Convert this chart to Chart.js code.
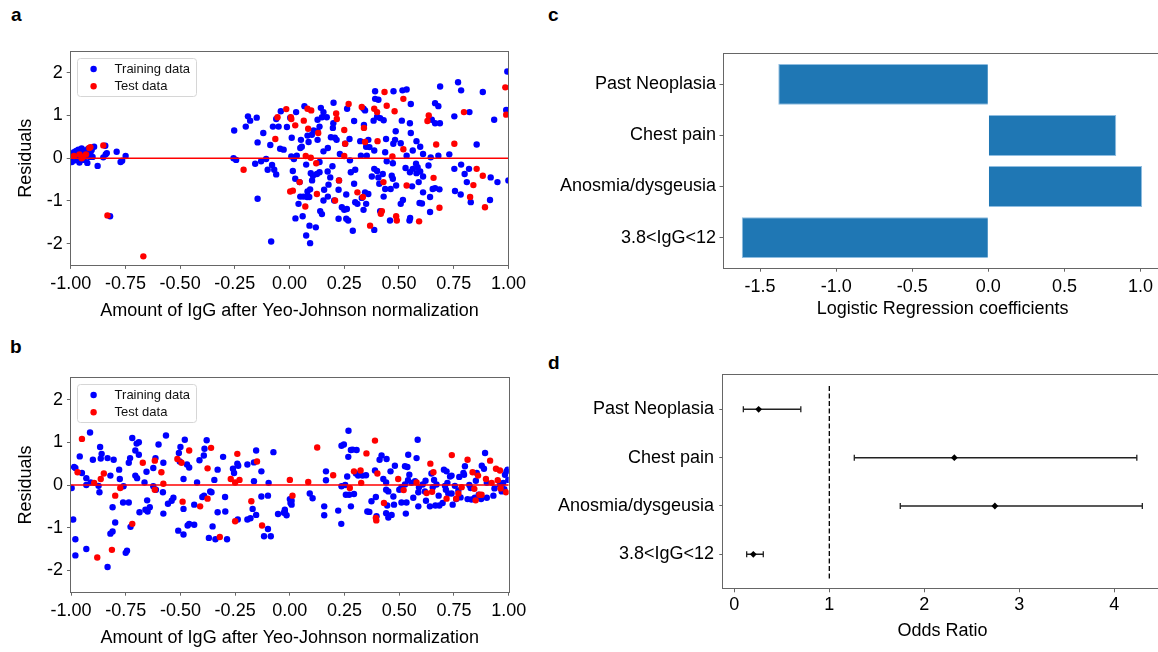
<!DOCTYPE html>
<html><head><meta charset="utf-8">
<script src="https://cdn.jsdelivr.net/npm/chart.js@4.4.1/dist/chart.umd.min.js"></script>
<style>
html,body{margin:0;padding:0;background:#fff;overflow:hidden;width:1158px;height:652px;position:relative;}
canvas{position:absolute;left:0;top:0;}
.lbl{position:absolute;font:bold 19px "Liberation Sans",Arial,sans-serif;line-height:19px;color:#000;}
</style></head><body>
<div class="lbl" style="left:11px;top:5px">a</div>
<div class="lbl" style="left:10px;top:337px">b</div>
<div class="lbl" style="left:548px;top:5px">c</div>
<div class="lbl" style="left:548px;top:353px">d</div>
<canvas id="chA" width="1170" height="652" style="width:1170px;height:652px"></canvas>
<canvas id="chB" width="1170" height="652" style="width:1170px;height:652px"></canvas>
<canvas id="chC" width="1170" height="652" style="width:1170px;height:652px"></canvas>
<canvas id="chD" width="1170" height="652" style="width:1170px;height:652px"></canvas>
<script>
// ---------- Panel a: residuals (training / test) ----------
const aTrain = [[-0.995,-0.09],[-0.99,0.11],[-0.985,0.14],[-0.98,-0.05],[-0.975,0.17],[-0.97,0.02],[-0.965,0.2],[-0.96,-0.1],[-0.955,0.06],[-0.95,0.23],[-0.945,0.1],[-0.94,-0.04],[-0.935,0.18],[-0.93,0.06],[-0.924,-0.11],[-0.92,0.22],[-0.915,0.03],[-0.91,0.12],[-0.904,0.19],[-0.9,0.03],[-0.893,0.27],[-0.877,-0.18],[-0.842,0.29],[-0.84,0.09],[-0.851,0.02],[-0.835,0.12],[-0.79,0.15],[-0.772,-0.09],[-0.765,-0.06],[-0.749,0.05],[-0.82,-1.36],
[-0.253,0.65],[-0.256,0.0],[-0.244,-0.04],[-0.2,0.74],[-0.19,0.98],[-0.18,0.88],[-0.15,0.95],[-0.146,0.37],[-0.157,-0.13],[-0.13,-0.07],[-0.107,-0.02],[-0.12,0.59],[-0.146,-0.95],[-0.1,-0.27],[-0.08,-0.16],[-0.07,-0.27],[-0.061,-0.38],[-0.088,0.31],[-0.084,-1.95],[-0.076,0.74],[-0.05,0.74],[-0.061,0.92],[-0.04,1.1],[-0.043,0.22],[-0.027,0.2],[0.003,0.95],[0.03,1.08],[-0.012,0.73],[0.01,0.48],[0.008,0.04],[0.02,-0.02],[0.033,0.06],[0.015,-0.3],[0.026,-0.48],[0.046,-0.56],[0.027,-1.41],[0.049,-0.9],[0.063,-0.9],[0.08,-0.91],[0.09,-0.91],[0.041,-1.07],[0.06,-1.36],[0.076,-1.81],[0.094,-1.99],[0.091,-1.58],[0.12,-1.62],[0.049,0.24],[0.056,0.27],[0.052,0.43],[0.068,1.22],[0.087,0.38],[0.082,0.53],[0.076,-0.15],[0.097,-0.35],[0.107,-0.41],[0.125,-0.37],[0.137,-0.33],[0.102,0.55],[0.082,-0.78],[0.094,-0.73],[0.103,-0.52],[0.11,0.65],[0.128,0.9],[0.128,0.63],[0.137,0.74],[0.128,0.43],[0.148,0.96],[0.155,1.08],[0.17,0.96],[0.143,1.18],[0.137,-0.09],[0.155,0.16],[0.175,0.24],[0.14,-1.24],[0.148,-1.31],[0.155,-0.99],[0.175,-0.9],[0.158,-0.74],[0.178,-0.62],[0.186,-0.45],[0.174,-0.31],[0.189,0.49],[0.198,0.71],[0.201,1.3],[0.2,0.82],[0.207,0.48],[0.215,0.43],[0.23,0.1],[0.196,-0.19],[0.226,-0.52],[0.224,-0.74],[0.204,-0.99],[0.239,-1.15],[0.25,-1.21],[0.262,-1.19],[0.224,-1.42],[0.259,-1.42],[0.268,-1.46],[0.289,-1.7],[0.259,-0.85],[0.254,0.34],[0.263,1.16],[0.274,0.45],[0.276,-0.05],[0.28,-0.33],[0.3,-0.27],[0.295,0.87],[0.295,-0.6],[0.3,-1.03],[0.31,-1.07],[0.323,0.4],[0.35,0.27],[0.338,1.16],[0.345,1.12],[0.34,0.78],[0.326,0.06],[0.353,0.06],[0.33,-0.93],[0.345,-0.8],[0.36,-0.84],[0.338,-1.21],[0.35,-1.07],[0.387,-1.68],[0.391,1.57],[0.391,1.39],[0.406,1.37],[0.384,0.88],[0.4,0.97],[0.414,0.94],[0.43,0.89],[0.387,0.18],[0.365,0.26],[0.36,0.43],[0.387,-0.25],[0.4,-0.3],[0.376,-0.43],[0.406,-0.45],[0.426,-0.37],[0.41,-0.6],[0.437,-0.72],[0.43,-0.9],[0.414,-1.24],[0.441,0.45],[0.437,0.14],[0.444,-0.07],[0.467,-0.41],[0.472,-0.48],[0.462,-0.72],[0.459,-1.46],[0.475,1.57],[0.485,0.63],[0.482,0.43],[0.474,0.34],[0.472,-0.12],[0.487,-0.64],[0.513,0.88],[0.508,0.35],[0.516,1.59],[0.535,1.61],[0.554,1.27],[0.535,0.06],[0.53,-0.23],[0.55,-0.33],[0.563,-0.25],[0.56,-0.66],[0.518,-0.98],[0.508,-1.07],[0.548,-1.46],[0.551,-1.4],[0.55,0.82],[0.554,0.59],[0.563,0.18],[0.58,0.4],[0.578,-0.13],[0.585,-0.21],[0.597,-0.31],[0.58,-0.35],[0.59,-0.56],[0.594,-1.05],[0.605,-1.06],[0.597,0.27],[0.61,0.1],[0.61,-0.43],[0.61,-0.8],[0.635,-0.17],[0.65,0.9],[0.665,1.29],[0.68,1.22],[0.665,0.82],[0.687,0.82],[0.68,0.06],[0.645,0.02],[0.654,-0.72],[0.665,-0.7],[0.685,-0.73],[0.642,-0.91],[0.642,-1.26],[0.688,1.68],[0.73,0.09],[0.753,0.98],[0.753,-0.25],[0.784,-0.15],[0.756,-0.77],[0.782,-0.85],[0.77,1.78],[0.784,1.59],[0.822,1.08],[0.8,-0.37],[0.81,-0.56],[0.82,-0.25],[0.828,-1.03],[0.855,0.32],[0.883,1.55],[0.916,-0.98],[0.919,-0.45],[0.95,-0.56],[0.935,0.9],[0.995,2.03],[0.99,1.13],[1.0,-0.52]];
const aTest = [[-0.985,0.05],[-0.96,0.09],[-0.945,0.03],[-0.93,0.09],[-0.915,0.24],[-0.91,0.26],[-0.95,0.0],[-0.851,0.3],[-0.832,-1.34],[-0.668,-2.3],
[-0.21,-0.27],[-0.065,0.45],[-0.055,0.96],[-0.015,1.15],[0.006,0.96],[0.008,0.92],[0.026,0.77],[0.003,-0.78],[0.015,-0.76],[0.046,-0.56],[0.072,-1.13],[0.065,0.88],[0.082,1.16],[0.099,1.12],[0.074,0.05],[0.097,0.01],[0.085,0.69],[0.125,-0.84],[0.131,0.59],[0.122,-0.12],[0.213,1.05],[0.216,0.92],[0.25,0.05],[0.226,-0.52],[0.208,-0.99],[0.25,0.66],[0.254,0.34],[0.27,1.27],[0.31,-0.8],[0.345,0.38],[0.33,1.2],[0.34,0.71],[0.335,-0.91],[0.368,-1.58],[0.387,1.16],[0.4,1.08],[0.402,0.4],[0.429,-0.56],[0.417,-1.3],[0.422,-1.24],[0.434,1.55],[0.444,1.23],[0.47,0.04],[0.487,-1.36],[0.49,-1.46],[0.48,1.1],[0.52,1.39],[0.52,0.21],[0.535,-0.64],[0.592,-1.48],[0.636,1.0],[0.63,0.87],[0.67,0.32],[0.658,-0.46],[0.685,-1.16],[0.753,0.34],[0.797,1.08],[0.84,-0.63],[0.825,-0.91],[0.855,-0.25],[0.883,-0.41],[0.893,-1.15],[0.986,1.66],[0.99,1.02]];

// ---------- Panel b ----------
const bTrain = [[-0.997,-0.07],[-0.99,-0.81],[-0.98,-1.27],[-0.98,-1.65],[-0.986,0.42],[-0.98,0.4],[-0.96,0.67],[-0.95,0.28],[-0.93,0.16],[-0.93,0.0],[-0.913,1.23],[-0.91,0.06],[-0.93,-1.5],[-0.9,0.59],[-0.874,-0.02],[-0.87,-0.17],[-0.867,0.89],[-0.864,0.62],[-0.86,0.73],[-0.833,0.63],[-0.82,0.22],[-0.805,0.59],[-0.833,-1.92],[-0.81,-0.52],[-0.798,-0.88],[-0.82,-1.14],[-0.81,-1.09],[-0.78,0.36],[-0.777,0.14],[-0.76,-0.03],[-0.762,-0.41],[-0.736,-0.41],[-0.75,-1.59],[-0.744,-1.54],[-0.728,-0.98],[-0.736,0.52],[-0.73,0.63],[-0.72,1.1],[-0.706,0.81],[-0.70,0.97],[-0.69,1.0],[-0.69,0.71],[-0.706,0.22],[-0.698,0.16],[-0.687,-0.64],[-0.664,0.06],[-0.66,-0.58],[-0.65,-0.62],[-0.64,-0.52],[-0.652,-0.36],[-0.655,0.31],[-0.624,0.4],[-0.614,0.63],[-0.6,0.95],[-0.612,-0.11],[-0.624,-0.03],[-0.578,0.52],[-0.58,-0.17],[-0.578,-0.67],[-0.566,1.16],[-0.557,-0.44],[-0.54,-0.37],[-0.532,-0.3],[-0.507,0.75],[-0.5,0.89],[-0.503,0.55],[-0.486,0.14],[-0.486,-0.56],[-0.51,-1.07],[-0.486,-1.16],[-0.48,1.06],[-0.47,0.48],[-0.46,0.41],[-0.467,-0.95],[-0.46,-0.91],[-0.437,-0.93],[-0.424,0.06],[-0.437,-0.46],[-0.413,0.58],[-0.393,0.69],[-0.38,1.05],[-0.39,0.85],[-0.4,-0.28],[-0.392,-0.25],[-0.37,-1.24],[-0.364,-0.15],[-0.358,-0.17],[-0.345,0.12],[-0.353,-0.97],[-0.34,-1.27],[-0.33,-0.64],[-0.33,0.36],[-0.305,0.66],[-0.296,-0.28],[-0.295,-0.62],[-0.287,-1.27],[-0.26,0.38],[-0.255,0.28],[-0.24,0.5],[-0.236,0.45],[-0.238,-0.81],[-0.194,0.48],[-0.164,0.53],[-0.154,0.81],[-0.164,0.09],[-0.194,-0.81],[-0.18,-0.78],[-0.17,-0.56],[-0.154,-0.7],[-0.13,0.32],[-0.13,-0.27],[-0.1,-0.25],[-0.118,-1.2],[-0.1,-1.03],[-0.087,-1.2],[-0.097,0.05],[-0.075,0.77],[-0.054,-0.68],[-0.023,-0.62],[-0.015,-0.71],[0.008,-0.37],[0.008,-0.46],
[-0.023,-0.58],[-0.027,-0.65],[0.0,-0.33],[0.003,-0.42],[0.091,-0.2],[0.104,-0.31],[0.165,0.32],[0.165,0.11],[0.157,-0.5],[0.157,-0.71],[0.221,-0.6],[0.235,-0.91],[0.236,0.92],[0.247,0.95],[0.268,1.27],[0.279,0.82],[0.287,0.83],[0.305,0.82],[0.267,0.66],[0.236,-0.03],[0.253,0.0],[0.256,-0.23],[0.271,-0.23],[0.293,-0.21],[0.262,0.2],[0.302,0.27],[0.312,0.22],[0.332,0.22],[0.348,0.23],[0.279,-0.5],[0.354,-0.62],[0.363,-0.63],[0.373,-0.38],[0.393,-0.28],[0.389,0.34],[0.396,-0.73],[0.419,0.69],[0.41,0.59],[0.442,0.61],[0.427,0.14],[0.44,0.06],[0.44,-0.11],[0.45,-0.15],[0.445,-0.48],[0.44,-0.66],[0.45,-0.76],[0.465,-0.7],[0.46,0.32],[0.48,0.45],[0.473,-0.27],[0.476,-0.46],[0.5,-0.11],[0.51,-0.05],[0.526,0.01],[0.51,-0.41],[0.53,-0.67],[0.533,-0.41],[0.526,0.44],[0.537,0.42],[0.546,0.24],[0.541,0.71],[0.579,0.63],[0.584,1.06],[0.54,0.11],[0.556,0.05],[0.572,0.09],[0.59,-0.05],[0.587,-0.17],[0.564,-0.3],[0.587,-0.5],[0.607,0.01],[0.617,-0.15],[0.622,-0.37],[0.647,0.27],[0.64,-0.5],[0.665,-0.48],[0.653,-0.05],[0.659,0.12],[0.67,0.01],[0.683,-0.48],[0.698,-0.42],[0.704,0.36],[0.716,0.32],[0.709,-0.02],[0.713,-0.11],[0.724,-0.2],[0.739,-0.2],[0.744,-0.46],[0.732,0.2],[0.739,0.22],[0.754,-0.02],[0.76,-0.33],[0.774,0.19],[0.793,0.28],[0.78,-0.29],[0.8,0.44],[0.796,0.24],[0.812,-0.33],[0.826,-0.07],[0.83,-0.34],[0.845,-0.3],[0.854,0.28],[0.863,-0.23],[0.874,-0.33],[0.877,0.45],[0.887,0.38],[0.892,0.75],[0.9,-0.3],[0.935,-0.08],[0.93,-0.25],[0.968,-0.15],[0.975,0.05],[0.983,0.24],[0.99,0.32],[0.995,0.36],[0.998,0.12],[0.98,-0.1],[0.96,0.0],[0.9,0.05],[0.85,0.1],[0.82,0.0],[0.72,0.05],[0.68,-0.25],[0.62,0.1],[0.77,-0.13]];
const bTest = [[-0.97,0.3],[-0.95,1.08],[-0.894,0.05],[-0.864,0.14],[-0.85,0.27],[-0.88,-1.7],[-0.798,-0.25],[-0.775,-0.07],[-0.813,-1.52],[-0.72,-0.91],[-0.672,0.52],[-0.617,0.57],[-0.617,-0.11],[-0.587,0.3],[-0.578,0.03],[-0.514,0.61],[-0.495,0.52],[-0.49,-0.39],[-0.46,0.81],[-0.41,-0.5],[-0.36,0.87],[-0.376,0.39],[-0.376,-0.32],[-0.32,-1.22],[-0.27,0.14],[-0.24,0.73],[-0.25,0.06],[-0.23,0.12],[-0.25,-0.85],[-0.15,0.55],[-0.176,-0.38],[-0.127,-0.95],[0.0,0.12],[0.012,-0.25],
[0.084,0.07],[0.125,0.88],[0.198,0.23],[0.274,-0.07],[0.293,0.32],[0.323,0.34],[0.326,0.05],[0.35,0.74],[0.389,1.04],[0.4,0.27],[0.393,-0.77],[0.395,-0.83],[0.43,-0.42],[0.495,0.14],[0.52,-0.12],[0.579,0.06],[0.625,-0.19],[0.642,0.5],[0.656,0.3],[0.65,-0.16],[0.716,-0.32],[0.74,0.7],[0.77,-0.2],[0.76,-0.32],[0.785,-0.05],[0.812,0.59],[0.835,0.3],[0.843,-0.09],[0.849,-0.36],[0.86,0.22],[0.866,-0.23],[0.876,-0.23],[0.896,0.14],[0.915,0.57],[0.922,0.05],[0.942,0.38],[0.96,0.34],[0.95,0.11],[0.963,-0.08],[0.988,-0.17]];

const scatterXTicks = [-1.0, -0.75, -0.5, -0.25, 0.0, 0.25, 0.5, 0.75, 1.0];
const residualYTicks = [-2, -1, 0, 1, 2];

// ---------- Panel c: logistic regression coefficients ----------
const featureNames = ['Past Neoplasia', 'Chest pain', 'Anosmia/dysgeusia', '3.8<IgG<12'];
const coefficients = [-1.38, 0.84, 1.01, -1.62];
const coefTicks = [-1.5, -1.0, -0.5, 0.0, 0.5, 1.0];

// ---------- Panel d: odds ratios with CI ----------
const oddsRatio = [0.256, 2.316, 2.743, 0.20];
const ciLow = [0.095, 1.263, 1.747, 0.13];
const ciHigh = [0.70, 4.237, 4.295, 0.305];
const orTicks = [0, 1, 2, 3, 4];
const refOdds = 1;

// ---------- common styling ----------
const FONT = "'Liberation Sans', Arial, Helvetica, sans-serif";
Chart.defaults.font.family = FONT;
Chart.defaults.font.size = 18;
Chart.defaults.color = '#000';
const CW = 1170, CH = 652;
const AX = '#666';

const framePlugin = {
  id: 'frame',
  afterDraw(chart) {
    const {left, top, right, bottom} = chart.chartArea;
    const ctx = chart.ctx;
    ctx.save();
    ctx.strokeStyle = AX; ctx.lineWidth = 1;
    ctx.strokeRect(Math.round(left) - 0.5, Math.round(top) - 0.5, Math.round(right) - Math.round(left) + 1, Math.round(bottom) - Math.round(top) + 1);
    ctx.restore();
  }
};
const boxLegend = {
  id: 'boxLegend',
  afterDraw(chart) {
    const ca = chart.chartArea, ctx = chart.ctx;
    const items = chart.data.datasets.filter(d => d.legendRank !== undefined).sort((p, q) => p.legendRank - q.legendRank);
    const x = Math.round(ca.left + 6), y = Math.round(ca.top + 6), w = 119, h = 38;
    ctx.save();
    ctx.beginPath();
    ctx.roundRect(x + 0.5, y + 0.5, w, h, 3);
    ctx.fillStyle = 'rgba(255,255,255,0.85)'; ctx.fill();
    ctx.strokeStyle = '#d6d6d6'; ctx.lineWidth = 1; ctx.stroke();
    ctx.font = '13px ' + FONT; ctx.textBaseline = 'middle'; ctx.textAlign = 'left';
    items.forEach((d, k) => {
      const cy = y + 11 + k * 17.3;
      ctx.beginPath(); ctx.arc(x + 16.6, cy, 3.2, 0, Math.PI * 2);
      ctx.fillStyle = d.backgroundColor; ctx.fill();
      ctx.fillStyle = '#111'; ctx.fillText(d.label, x + 37.6, cy);
    });
    ctx.restore();
  }
};

function tickList(vals) { return s => { s.ticks = vals.map(v => ({value: v})); }; }

function residualChart(id, train, test, area) {
  const pts = arr => arr.map(p => ({x: p[0], y: p[1]}));
  return new Chart(document.getElementById(id), {
    type: 'scatter',
    data: {datasets: [
      {type: 'line', label: 'zero', data: [{x: -1, y: 0}, {x: 1, y: 0}], borderColor: '#ff0000', borderWidth: 1.5, pointRadius: 0, order: 0},
      {label: 'Test data', legendRank: 1, data: pts(test), backgroundColor: '#ff0000', borderWidth: 0, pointRadius: 3.2, order: 1},
      {label: 'Training data', legendRank: 0, data: pts(train), backgroundColor: '#0000ff', borderWidth: 0, pointRadius: 3.2, order: 2}
    ]},
    options: {
      responsive: false, animation: false, events: [],
      layout: {padding: {left: 0, top: area.top, right: CW - area.right, bottom: CH - area.axisBottom}},
      plugins: {legend: {display: false}, tooltip: {enabled: false}},
      scales: {
        x: {type: 'linear', min: -1, max: 1, afterBuildTicks: tickList(scatterXTicks),
            ticks: {padding: 4.2, maxRotation: 0, autoSkip: false, callback: v => v.toFixed(2)},
            grid: {drawOnChartArea: false, tickLength: 4, tickColor: AX}, border: {display: false},
            title: {display: true, text: 'Amount of IgG after Yeo-Johnson normalization', padding: {top: 0, bottom: 0}},
            afterFit: s => { s.height = area.axisBottom - area.bottom; }},
        y: {type: 'linear', min: -2.5, max: 2.5, afterBuildTicks: tickList(residualYTicks),
            ticks: {padding: 4, callback: v => String(v)},
            grid: {drawOnChartArea: false, tickLength: 4, tickColor: AX}, border: {display: false},
            title: {display: true, text: 'Residuals', padding: {top: 15, bottom: 0}},
            afterFit: s => { s.width = area.left; }}
      }
    },
    plugins: [framePlugin, boxLegend]
  });
}

residualChart('chA', aTrain, aTest, {left: 70.7, top: 51.5, right: 508.4, bottom: 264.9, axisBottom: 321.8});
residualChart('chB', bTrain, bTest, {left: 71, top: 378.3, right: 508.7, bottom: 591.7, axisBottom: 648.5});

// Panel c
(function () {
  const n = featureNames.length;
  const area = {left: 723.5, top: 54.3, right: 1161.9, bottom: 267.7, axisBottom: 319.8};
  new Chart(document.getElementById('chC'), {
    type: 'bar',
    data: {datasets: [{
      data: featureNames.map((f, i) => ({x: coefficients[i], y: n - 1 - i})),
      backgroundColor: '#1f77b4', borderColor: '#8fbde0', borderWidth: 1,
      categoryPercentage: 1, barPercentage: 0.8
    }]},
    options: {
      indexAxis: 'y', responsive: false, animation: false, events: [],
      layout: {padding: {left: 0, top: area.top, right: CW - area.right, bottom: CH - area.axisBottom}},
      plugins: {legend: {display: false}, tooltip: {enabled: false}},
      scales: {
        x: {type: 'linear', min: -1.74, max: 1.14, offset: false, afterBuildTicks: tickList(coefTicks),
            ticks: {padding: 5, maxRotation: 0, autoSkip: false, callback: v => v.toFixed(1)},
            grid: {drawOnChartArea: false, offset: false, tickLength: 4, tickColor: AX}, border: {display: false},
            title: {display: true, text: 'Logistic Regression coefficients', padding: {top: 0, bottom: 0}},
            afterFit: s => { s.height = area.axisBottom - area.bottom; }},
        y: {type: 'linear', min: -0.59, max: 3.59, offset: false, afterBuildTicks: tickList(featureNames.map((f, i) => n - 1 - i)),
            ticks: {padding: 3.5, autoSkip: false, callback: v => featureNames[n - 1 - v]},
            grid: {drawOnChartArea: false, offset: false, tickLength: 4, tickColor: AX}, border: {display: false},
            afterFit: s => { s.width = area.left; }}
      }
    },
    plugins: [framePlugin]
  });
})();

// Panel d
(function () {
  const n = featureNames.length;
  const area = {left: 723.3, top: 375, right: 1161.8, bottom: 588.3, axisBottom: 641.8};
  const ds = [];
  featureNames.forEach((f, i) => {
    const y = n - 1 - i;
    ds.push({type: 'line', data: [{x: ciLow[i], y}, {x: ciHigh[i], y}], borderColor: '#222', borderWidth: 1.5,
             pointStyle: 'line', pointRotation: 90, pointRadius: 3, pointBorderColor: '#222', pointBorderWidth: 1.3, order: 2});
  });
  ds.push({type: 'scatter', data: oddsRatio.map((v, i) => ({x: v, y: n - 1 - i})), pointStyle: 'rectRot',
           pointRadius: 3.4, backgroundColor: '#000', borderColor: '#000', borderWidth: 0, order: 1});
  ds.push({type: 'line', data: [{x: refOdds, y: -0.5}, {x: refOdds, y: n - 0.5}], borderColor: '#000', borderWidth: 1.3,
           borderDash: [5, 2.5], pointRadius: 0, order: 3});
  new Chart(document.getElementById('chD'), {
    type: 'scatter',
    data: {datasets: ds},
    options: {
      responsive: false, animation: false, events: [],
      layout: {padding: {left: 0, top: area.top, right: CW - area.right, bottom: CH - area.axisBottom}},
      plugins: {legend: {display: false}, tooltip: {enabled: false}},
      scales: {
        x: {type: 'linear', min: -0.116, max: 4.5, afterBuildTicks: tickList(orTicks),
            ticks: {padding: 1.5, maxRotation: 0, autoSkip: false, callback: v => String(v)},
            grid: {drawOnChartArea: false, tickLength: 4, tickColor: AX}, border: {display: false},
            title: {display: true, text: 'Odds Ratio', padding: {top: 0, bottom: 0}},
            afterFit: s => { s.height = area.axisBottom - area.bottom; }},
        y: {type: 'linear', min: -0.703, max: 3.71, afterBuildTicks: tickList(featureNames.map((f, i) => n - 1 - i)),
            ticks: {padding: 5.3, autoSkip: false, callback: v => featureNames[n - 1 - v]},
            grid: {drawOnChartArea: false, tickLength: 4, tickColor: AX}, border: {display: false},
            afterFit: s => { s.width = area.left; }}
      }
    },
    plugins: [framePlugin]
  });
})();
</script>
</body></html>
